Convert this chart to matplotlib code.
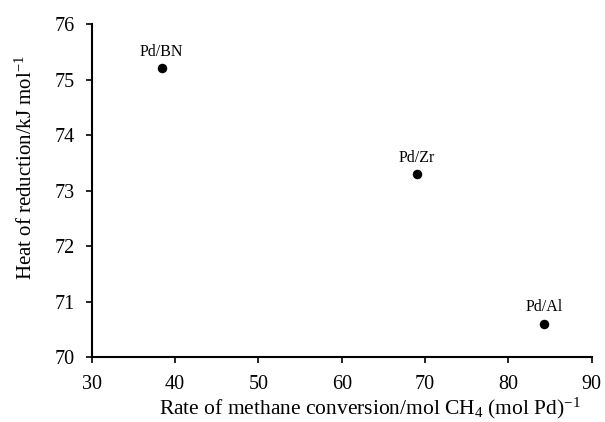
import matplotlib
matplotlib.use("Agg")
import matplotlib.pyplot as plt

plt.rcParams['font.family'] = ['Liberation Serif', 'DejaVu Serif']
plt.rcParams['mathtext.fontset'] = 'custom'
plt.rcParams['mathtext.rm'] = 'Liberation Serif'
plt.rcParams['mathtext.default'] = 'regular'

catalysts = ["Pd/BN", "Pd/Zr", "Pd/Al"]
rate = [38.4, 69.0, 84.3]
heat = [75.2, 73.3, 70.6]
xticks = [30, 40, 50, 60, 70, 80, 90]
yticks = [70, 71, 72, 73, 74, 75, 76]

fig = plt.figure(figsize=(6.05, 4.22), dpi=100)
ax = fig.add_axes([0.1516, 0.154, 0.8264, 0.789])
ax.scatter(rate, heat, s=34, color='black', zorder=3)
for name, x, y in zip(catalysts, rate, heat):
    ax.annotate(name, (x, y), xytext=(0, 6), textcoords='offset points',
                ha='center', va='bottom', fontsize=11.5)

ax.set_xlim(30, 90)
ax.set_ylim(70, 76)
ax.set_xticks(xticks)
ax.set_yticks(yticks)
ax.tick_params(direction='out', length=4, width=1.2, labelsize=14.5)
ax.tick_params(axis='x', pad=9)
ax.tick_params(axis='y', pad=8)
for s in ['top', 'right']:
    ax.spines[s].set_visible(False)
for s in ['left', 'bottom']:
    ax.spines[s].set_linewidth(1.5)

ax.set_xlabel("Rate of methane conversion/mol CH$_4$ (mol Pd)$^{-1}$", fontsize=15.5)
ax.set_ylabel("Heat of reduction/kJ mol$^{-1}$", fontsize=15)
ax.xaxis.set_label_coords(0.557, -0.115)
ax.yaxis.set_label_coords(-0.11, 0.568)

fig.savefig("out.png", dpi=100)
